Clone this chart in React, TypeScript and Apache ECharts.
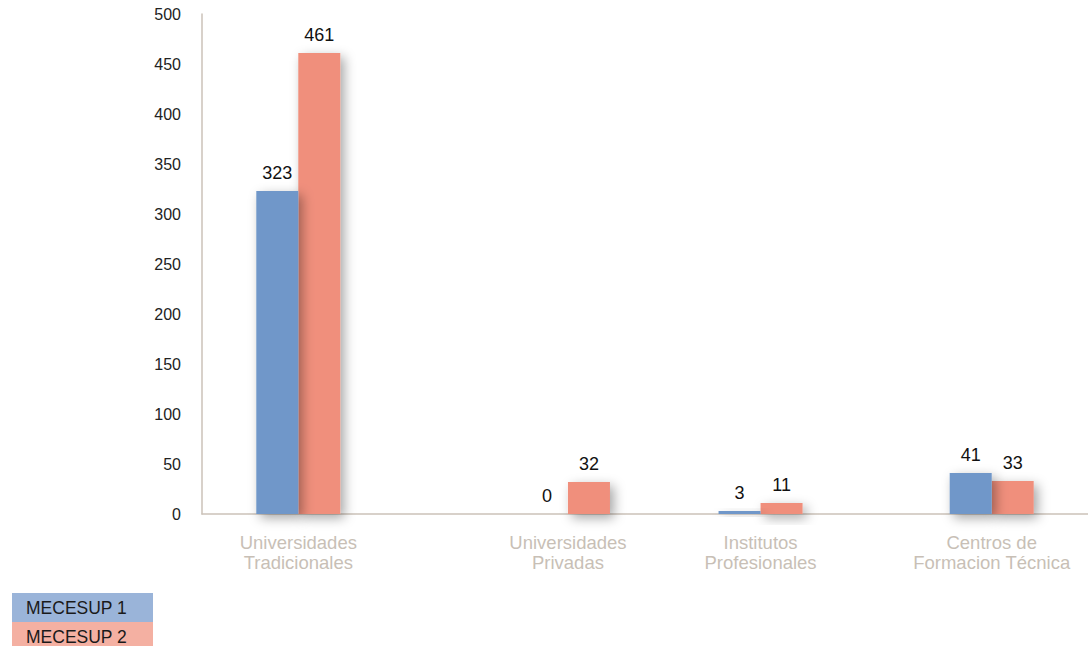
import React, { useEffect, useRef } from "react";
import * as echarts from "echarts";

const categories = [
  "Universidades\nTradicionales",
  "Universidades\nPrivadas",
  "Institutos\nProfesionales",
  "Centros de\nFormacion Técnica",
];
const seriesNames = ["MECESUP 1", "MECESUP 2"];
const mecesup1 = [323, 0, 3, 41];
const mecesup2 = [461, 32, 11, 33];
const yTicks = { min: 0, max: 500, interval: 50 };

// layout: the groups sit unevenly along the axis, so place them in slots
const slotCount = 23;
const slotIndex = [2, 9, 14, 20];

const colors = ["#6f97c9", "#f08f7c"];
const legendColors = ["#9ab4d9", "#f4b0a2"];
const axisColor = "#cbc2b9";
const FONT = "'Liberation Sans', Arial, Helvetica, sans-serif";

function buildAxis() {
  const axis: string[] = [];
  for (let i = 0; i < slotCount; i++) axis.push(`_${i}`);
  slotIndex.forEach((s, k) => (axis[s] = categories[k]));
  return axis;
}
function buildSeries(values: number[]) {
  const arr: (number | null)[] = new Array(slotCount).fill(null);
  slotIndex.forEach((s, k) => (arr[s] = values[k]));
  return arr;
}

export default function App() {
  const ref = useRef<HTMLDivElement>(null);
  useEffect(() => {
    if (!ref.current) return;
    const chart = echarts.init(ref.current, undefined, { renderer: "svg" });
    const shadow = {
      shadowBlur: 12,
      shadowColor: "rgba(0,0,0,0.35)",
      shadowOffsetX: 4,
      shadowOffsetY: 4,
    };
    const label = {
      show: true,
      position: "top",
      distance: 9,
      color: "#111",
      fontSize: 18,
      fontFamily: FONT,
    };
    chart.setOption({
      animation: false,
      textStyle: { fontFamily: FONT },
      grid: { left: 202, right: 0, top: 14, bottom: 132, containLabel: false },
      xAxis: {
        type: "category",
        data: buildAxis(),
        axisLine: { show: true, lineStyle: { color: axisColor, width: 1.5 } },
        axisTick: { show: false },
        splitLine: { show: false },
        axisLabel: {
          interval: 0,
          margin: 18,
          fontSize: 18.5,
          lineHeight: 20,
          color: "#c8bfb6",
          fontFamily: FONT,
          formatter: (v: string) => (v.startsWith("_") ? "" : v),
        },
      },
      yAxis: {
        type: "value",
        min: yTicks.min,
        max: yTicks.max,
        interval: yTicks.interval,
        axisLine: { show: true, lineStyle: { color: axisColor, width: 1.5 } },
        axisTick: { show: false },
        splitLine: { show: false },
        axisLabel: { fontSize: 16, color: "#222", margin: 21, fontFamily: FONT },
      },
      series: [
        {
          name: seriesNames[0],
          type: "bar",
          data: buildSeries(mecesup1),
          barWidth: 42,
          barGap: "0%",
          z: 3,
          itemStyle: { color: colors[0], ...shadow },
          label,
        },
        {
          name: seriesNames[1],
          type: "bar",
          data: buildSeries(mecesup2),
          barWidth: 42,
          barGap: "0%",
          z: 2,
          itemStyle: { color: colors[1], ...shadow },
          label,
        },
      ],
      graphic: seriesNames.map((n, i) => ({
        type: "group",
        left: 12,
        top: 593 + i * 29,
        children: [
          {
            type: "rect",
            shape: { x: 0, y: 0, width: 141, height: 29 },
            style: { fill: legendColors[i] },
          },
          {
            type: "text",
            x: 14,
            y: 14.5,
            style: {
              text: n,
              fill: "#1a1a1a",
              fontSize: 17.5,
              fontFamily: FONT,
              verticalAlign: "middle",
            },
          },
        ],
      })),
    });
    return () => chart.dispose();
  }, []);
  return (
    <div
      ref={ref}
      style={{ position: "absolute", left: 0, top: 0, width: 1088, height: 646 }}
    />
  );
}
